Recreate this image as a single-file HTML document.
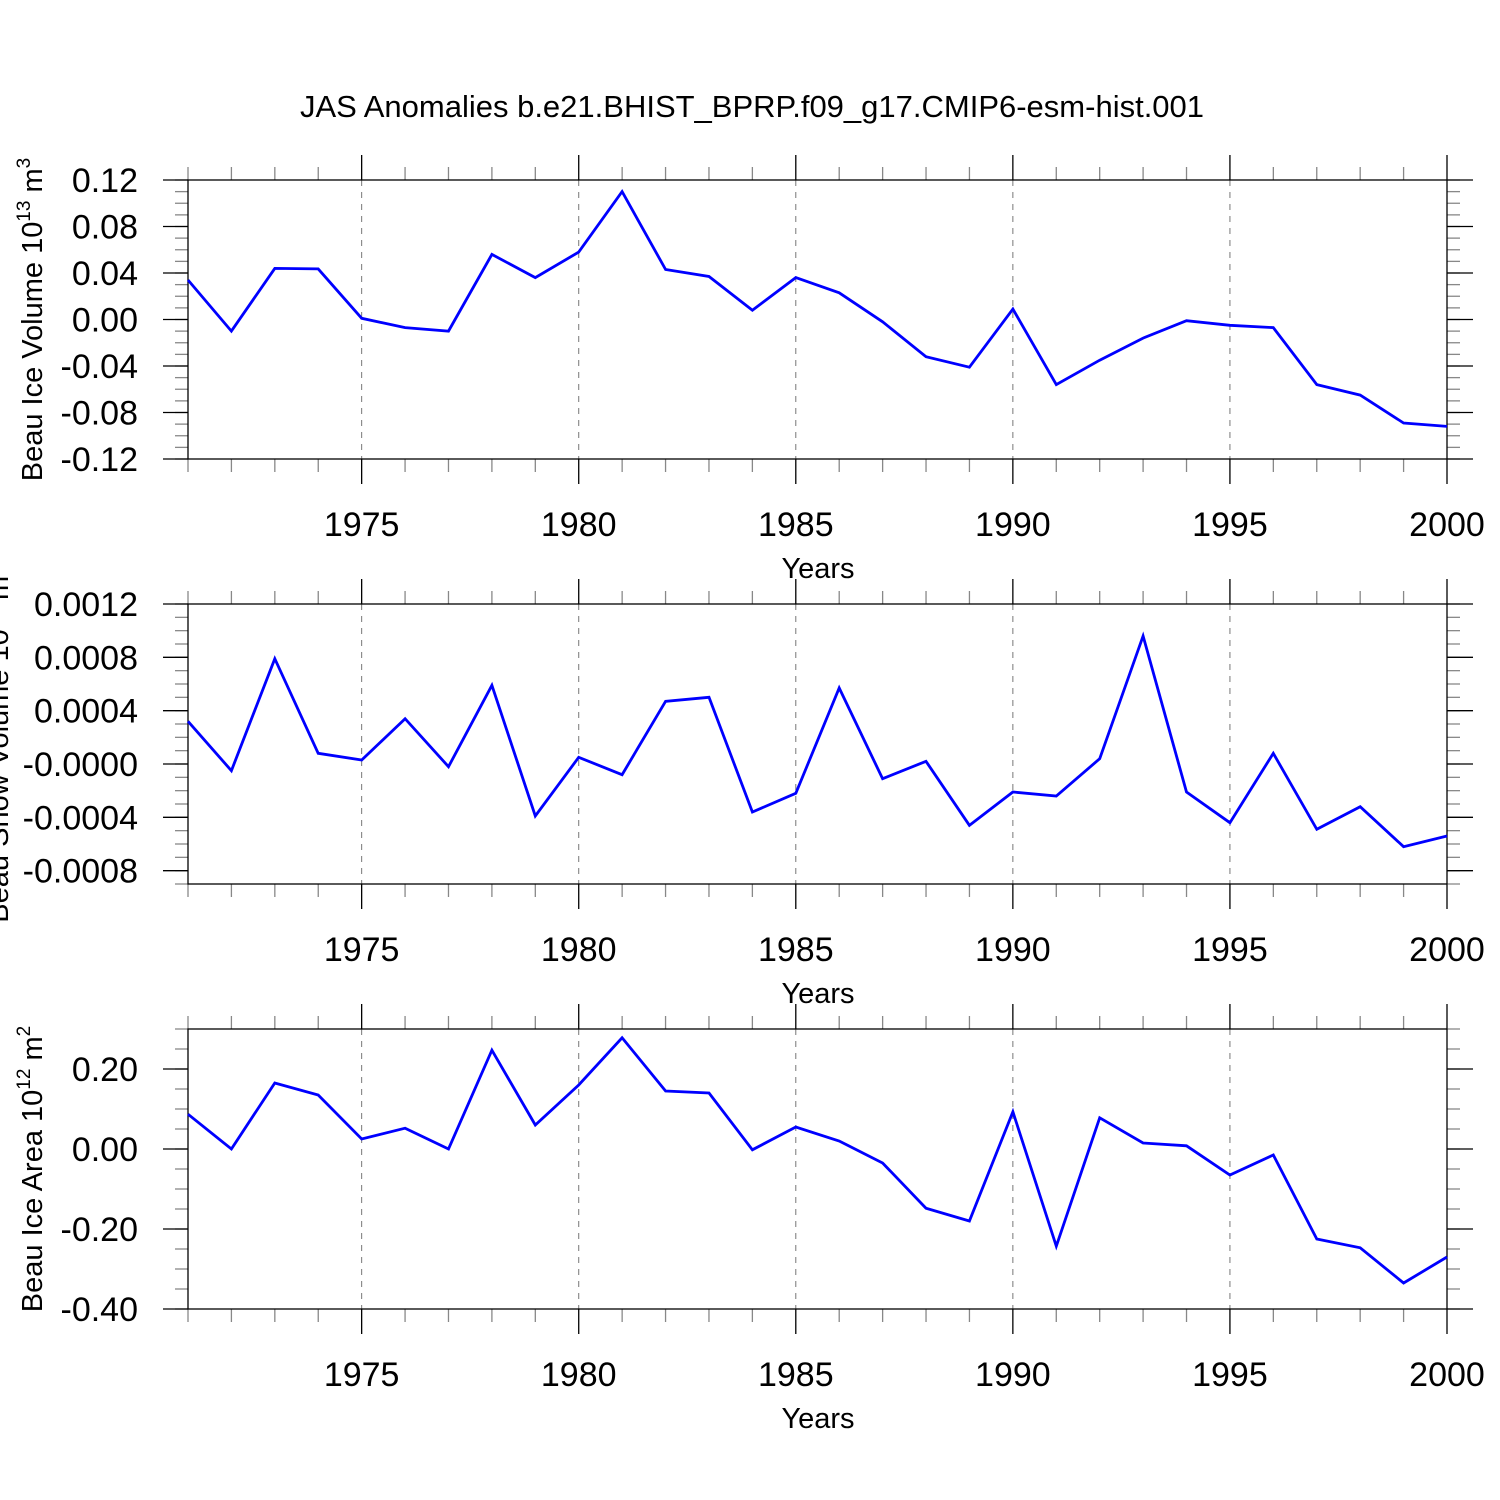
<!DOCTYPE html>
<html><head><meta charset="utf-8"><style>
html,body{margin:0;padding:0;background:#fff}
svg{display:block;font-family:"Liberation Sans",Arial,sans-serif}
</style></head><body>
<svg id="chart" xmlns="http://www.w3.org/2000/svg" width="1500" height="1500" viewBox="0 0 1500 1500">
<rect width="1500" height="1500" fill="#fff"/>
<text x="752" y="117" font-size="31" text-anchor="middle">JAS Anomalies b.e21.BHIST_BPRP.f09_g17.CMIP6-esm-hist.001</text>
</svg>
<script>
const years = [1971,1972,1973,1974,1975,1976,1977,1978,1979,1980,1981,1982,1983,1984,1985,1986,1987,1988,1989,1990,1991,1992,1993,1994,1995,1996,1997,1998,1999,2000];
const iceVolume = [0.034,-0.010,0.044,0.0435,0.001,-0.007,-0.010,0.056,0.036,0.058,0.110,0.043,0.037,0.008,0.036,0.023,-0.002,-0.032,-0.041,0.009,-0.056,-0.035,-0.016,-0.001,-0.005,-0.007,-0.056,-0.065,-0.089,-0.092];
const snowVolume = [0.00032,-0.00005,0.00079,0.00008,0.00003,0.00034,-0.00002,0.00059,-0.00039,0.00005,-0.00008,0.00047,0.00050,-0.00036,-0.00022,0.00057,-0.00011,0.00002,-0.00046,-0.00021,-0.00024,0.00004,0.00096,-0.00021,-0.00044,0.00008,-0.00049,-0.00032,-0.00062,-0.00054];
const iceArea = [0.087,0.0,0.165,0.135,0.025,0.052,0.0,0.247,0.06,0.16,0.278,0.145,0.14,-0.002,0.055,0.02,-0.035,-0.148,-0.18,0.093,-0.243,0.078,0.015,0.008,-0.065,-0.015,-0.225,-0.247,-0.335,-0.27];
const xTickYears = [1975,1980,1985,1990,1995,2000];
const volTicks = [0.12,0.08,0.04,0.00,-0.04,-0.08,-0.12];
const volLabels = ["0.12","0.08","0.04","0.00","-0.04","-0.08","-0.12"];
const snowTicks = [0.0012,0.0008,0.0004,0,-0.0004,-0.0008];
const snowLabels = ["0.0012","0.0008","0.0004","-0.0000","-0.0004","-0.0008"];
const areaTicks = [0.2,0,-0.2,-0.4];
const areaLabels = ["0.20","0.00","-0.20","-0.40"];

const NS="http://www.w3.org/2000/svg";
const svg=document.getElementById('chart');
const X0=188,X1=1447;
function xs(yr){return X0+(yr-1971)/(2000-1971)*(X1-X0);}
function mk(tag,attrs,parent){const e=document.createElementNS(NS,tag);for(const k in attrs)e.setAttribute(k,attrs[k]);(parent||svg).appendChild(e);return e;}

function panel(cfg){
  const g=mk('g',{});
  
  
  const ys=v=>cfg.top+(cfg.ymax-v)/(cfg.ymax-cfg.ymin)*(cfg.bot-cfg.top);
  xTickYears.forEach(yr=>{ if(yr<2000){const l=mk('line',{x1:xs(yr),x2:xs(yr),y1:cfg.top,y2:cfg.bot,stroke:'#777','stroke-width':1,'stroke-dasharray':'6,6'},g);
    
    }});
  for(let yr=1971;yr<=2000;yr++){
    const maj=yr%5===0, L=maj?25:13, c=maj?'#000':'#888';
    mk('line',{x1:xs(yr),x2:xs(yr),y1:cfg.top-L,y2:cfg.top,stroke:c,'stroke-width':1.3},g);
    mk('line',{x1:xs(yr),x2:xs(yr),y1:cfg.bot,y2:cfg.bot+L,stroke:c,'stroke-width':1.3},g);
  }
  for(let v=cfg.ymin;v<=cfg.ymax+cfg.minor/2;v+=cfg.minor){
    const y=ys(v);
    mk('line',{x1:X0-13,x2:X0,y1:y,y2:y,stroke:'#888','stroke-width':1.3},g);
    mk('line',{x1:X1,x2:X1+13,y1:y,y2:y,stroke:'#888','stroke-width':1.3},g);
  }
  cfg.ticks.forEach((v,i)=>{
    const y=ys(v);
    mk('line',{x1:X0-25,x2:X0,y1:y,y2:y,stroke:'#000','stroke-width':1.3},g);
    mk('line',{x1:X1,x2:X1+26,y1:y,y2:y,stroke:'#000','stroke-width':1.3},g);
    const t=mk('text',{x:138,y:y+12,'font-size':34,'text-anchor':'end'},g);
    t.textContent=cfg.labels[i];
    
    
  });
  const f=mk('rect',{x:X0,y:cfg.top,width:X1-X0,height:cfg.bot-cfg.top,fill:'none',stroke:'#000','stroke-width':1.3},g);
  
  
  xTickYears.forEach(yr=>{
    const t=mk('text',{x:xs(yr),y:cfg.bot+77,'font-size':34,'text-anchor':'middle'},g);
    t.textContent=yr;
    
    
  });
  const xt=mk('text',{x:818,y:cfg.bot+119,'font-size':29,'text-anchor':'middle'},g);
  xt.textContent='Years';
  
  
  const yt=mk('text',{x:0,y:0,'font-size':29,'text-anchor':'middle',transform:`translate(${cfg.ylx},${(cfg.top+cfg.bot)/2}) rotate(-90)`},g);
  yt.innerHTML=cfg.ytitle;
  
  
  const pts=years.map((yr,i)=>xs(yr).toFixed(1)+','+ys(cfg.data[i]).toFixed(1)).join(' ');
  const pl=mk('polyline',{points:pts,fill:'none',stroke:'#0000ff','stroke-width':2.8,'stroke-linejoin':'miter'},g);
  
  
}
panel({name:'ice-volume-panel',top:180,bot:459,ymin:-0.12,ymax:0.12,minor:0.01,ticks:volTicks,labels:volLabels,data:iceVolume,ylx:42,
  ytitle:'Beau Ice Volume 10<tspan dy="-12" font-size="19">13</tspan><tspan dy="12"> m</tspan><tspan dy="-12" font-size="19">3</tspan>'});
panel({name:'snow-volume-panel',top:604,bot:884,ymin:-0.0009,ymax:0.0012,minor:0.0001,ticks:snowTicks,labels:snowLabels,data:snowVolume,ylx:8,
  ytitle:'Beau Snow Volume 10<tspan dy="-12" font-size="19">13</tspan><tspan dy="12"> m</tspan><tspan dy="-12" font-size="19">3</tspan>'});
panel({name:'ice-area-panel',top:1029,bot:1309,ymin:-0.4,ymax:0.3,minor:0.05,ticks:areaTicks,labels:areaLabels,data:iceArea,ylx:42,
  ytitle:'Beau Ice Area 10<tspan dy="-12" font-size="19">12</tspan><tspan dy="12"> m</tspan><tspan dy="-12" font-size="19">2</tspan>'});
</script>
</body></html>
